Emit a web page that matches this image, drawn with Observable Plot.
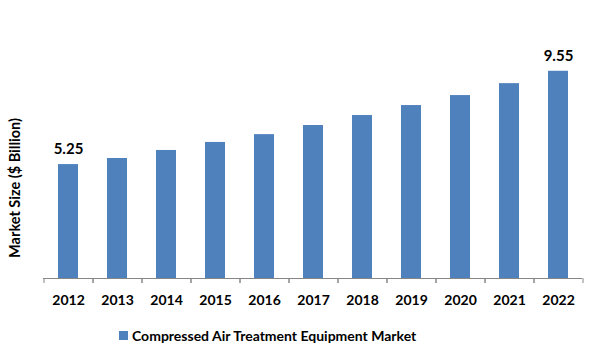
<!DOCTYPE html>
<html>
<head>
<meta charset="utf-8">
<script src="https://cdn.jsdelivr.net/npm/d3@7"></script>
<script src="https://cdn.jsdelivr.net/npm/@observablehq/plot@0.6"></script>
<style>
  html, body { margin: 0; padding: 0; background: #fff; }
  #chart { width: 600px; }
  .legend { display: flex; align-items: center; justify-content: flex-start; height: 24px; margin-top: 8px;
    padding-left: 119px; font-family: Lato, "Open Sans", sans-serif; font-weight: bold; font-size: 14px; color: #000; }
  .legend .sw { width: 9px; height: 9px; background: #4F81BD; margin-right: 4px; }
</style>
</head>
<body>
<div id="chart"></div>
<script>
const years = ["2012","2013","2014","2015","2016","2017","2018","2019","2020","2021","2022"];
const values = [5.25, 5.53, 5.90, 6.27, 6.63, 7.05, 7.51, 7.97, 8.43, 8.98, 9.55];
const shownLabels = ["2012", "2022"];
const seriesName = "Compressed Air Treatment Equipment Market";
const yLabel = "Market Size ($ Billion)";

const data = years.map((y, i) => ({year: y, value: values[i]}));
const font = "Lato, 'Open Sans', sans-serif";

const plot = Plot.plot({
  width: 600,
  height: 315,
  marginLeft: 43,
  marginRight: 18,
  marginTop: 61,
  marginBottom: 37,
  style: {fontFamily: font, background: "#fff"},
  x: {domain: years, paddingInner: 0.6, paddingOuter: 0.3, label: null},
  y: {domain: [0, 10], axis: null},
  marks: [
    Plot.barY(data, {x: "year", y: "value", fill: "#4F81BD"}),
    Plot.ruleY([0], {stroke: "#868686", strokeWidth: 1}),
    Plot.axisX({tickSize: 5, dx: -24.5, text: null, stroke: "#868686"}),
    Plot.axisX({tickSize: 5, dx: 24.5, text: null, stroke: "#868686"}),
    Plot.axisX({tickSize: 0, tickPadding: 17, fontSize: 14, fontWeight: "bold", fill: "#000", label: null}),
    Plot.text(data.filter(d => shownLabels.includes(d.year)), {
      x: "year", y: "value", text: d => d.value.toFixed(2), dy: -15,
      fontSize: 15, fontWeight: "bold", fill: "#000"
    }),
    Plot.text([yLabel], {
      frameAnchor: "left", textAnchor: "middle", text: d => d, rotate: -90, dx: -28, dy: 18,
      fontSize: 14.5, fontWeight: "bold", fill: "#000"
    })
  ]
});
document.getElementById("chart").appendChild(plot);

const legend = document.createElement("div");
legend.className = "legend";
legend.innerHTML = `<span class="sw"></span><span></span>`;
legend.lastChild.textContent = seriesName;
document.getElementById("chart").appendChild(legend);
</script>
</body>
</html>
